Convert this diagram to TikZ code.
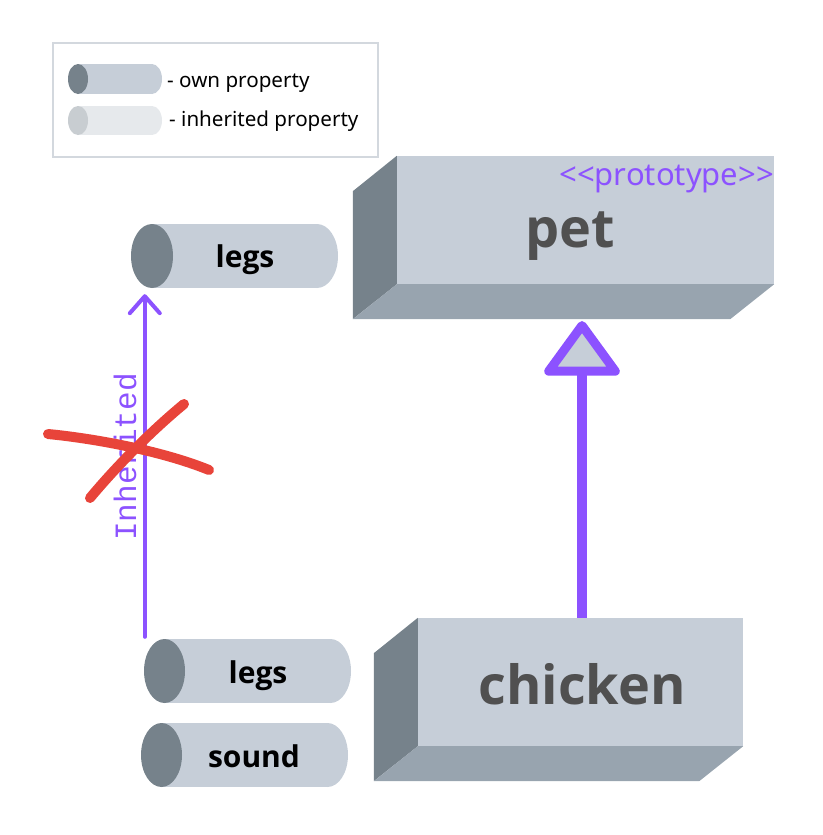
\documentclass[tikz,border=0pt]{standalone}
\usepackage{fontspec}
\setmainfont{Noto Sans}
\newfontfamily\boldsans{Open Sans}
\newfontfamily\inhmono{Liberation Mono}
\usetikzlibrary{arrows.meta,calc}
\definecolor{boxface}{HTML}{C6CED8}
\definecolor{boxside}{HTML}{76828B}
\definecolor{boxbottom}{HTML}{98A4AF}
\definecolor{inhbody}{HTML}{E6E9EC}
\definecolor{inhend}{HTML}{C8CDD1}
\definecolor{inhpurple}{HTML}{8C52FF}
\definecolor{crossred}{HTML}{E8443A}
\definecolor{textgray}{HTML}{505050}
\definecolor{legendframe}{HTML}{D3D8DE}
\newcommand\propcyl[8]{%
  \fill[#7] ({#4-#6},{(#3+#5)/2}) ellipse [x radius={#6*1pt}, y radius={(#5-#3)/2*1pt}];
  \fill[#7] ({#2+#6},#3) rectangle ({#4-#6},#5);
  \fill[#8] ({#2+#6},{(#3+#5)/2}) ellipse [x radius={#6*1pt}, y radius={(#5-#3)/2*1pt}];
  \node[inner sep=0pt, minimum width={(#4-#2)*1pt}, minimum height={(#5-#3)*1pt}] (#1) at ({(#2+#4)/2},{(#3+#5)/2}) {};
}
\newcommand\boxthreed[1]{%
  \fill[boxside] (#1.north west) -- (#1.south west) -- ++(-44,35) -- ++(0,-128) -- cycle;
  \fill[boxbottom] (#1.south west) -- (#1.south east) -- ++(-44,35) -- ($(#1.south west)+(-44,35)$) -- cycle;
}
\tikzset{
  frontface/.style={fill=boxface, inner sep=0pt, minimum height=128pt},
  boxtext/.style={font=\boldsans\fontsize{54}{54}\selectfont\bfseries, text=textgray, inner sep=0pt},
  proptext/.style={font=\boldsans\fontsize{30}{30}\selectfont\bfseries, text=black, inner sep=0pt},
  legendtext/.style={font=\fontsize{20.6}{20.6}\selectfont, text=black, inner sep=0pt},
  prototext/.style={font=\fontsize{31}{31}\selectfont, text=inhpurple, inner sep=0pt},
  inhlabel/.style={font=\inhmono\fontsize{31}{31}\selectfont, text=inhpurple, inner sep=0pt},
  inhline/.style={draw=inhpurple, line width=4pt, line cap=round,
    -{Straight Barb[length=17pt,width=30pt,round]}},
  protoarrow/.style={draw=inhpurple, line width=10pt,
    -{Triangle[length=58pt,width=82pt,fill=boxface,line width=9pt,round]}},
  crossline/.style={draw=crossred, line width=10pt, line cap=round},
}
\begin{document}
\begin{tikzpicture}[x=1pt,y=-1pt]
\useasboundingbox (0,0) rectangle (822,835);
% legend
\node[draw=legendframe, line width=2pt, inner sep=0pt, minimum width=325pt, minimum height=114pt] (legend) at (215.5,100) {};
\propcyl{ownkey}{68}{64}{162}{94}{10}{boxface}{boxside}
\propcyl{inhkey}{68}{106}{162}{135}{10}{inhbody}{inhend}
\node[legendtext, anchor=base west] (ownlbl) at (167,87) {- own property};
\node[legendtext, anchor=base west] (inhlbl) at (169,126) {- inherited property};
% pet
\node[frontface, minimum width=377pt] (pet) at (585.5,220) {};
\boxthreed{pet}
\node[boxtext, anchor=base] (pettext) at (570,247) {pet};
\node[prototext, anchor=base east] (proto) at (774,185) {{<}{<}prototype{>}{>}};
% chicken
\node[frontface, minimum width=325pt] (chicken) at (580.5,682) {};
\boxthreed{chicken}
\node[boxtext, anchor=base] (chickentext) at (582,704) {chicken};
% properties
\propcyl{legsA}{131}{224}{338}{288}{21}{boxface}{boxside}
\node[proptext, anchor=base] (legsAtext) at (245,267) {legs};
\propcyl{legsB}{144}{639}{351}{703}{20.5}{boxface}{boxside}
\node[proptext, anchor=base] (legsBtext) at (258,683) {legs};
\propcyl{sound}{141}{723}{348}{787}{20.5}{boxface}{boxside}
\node[proptext, anchor=base] (soundtext) at (254,767) {sound};
% prototype arrow
\coordinate (petbase) at (582,321);
\draw[protoarrow] (chicken.north -| petbase) -- (petbase);
% inherited arrow
\draw[inhline] ([xshift=1pt,yshift=2pt]legsB.north west) -- ([xshift=14pt,yshift=-6pt]legsA.south west);
\node[inhlabel, rotate=90, anchor=base] (inhtxt) at (136,457) {Inherited};
% cross
\draw[crossline] (48,434) .. controls (90,438) and (160,450) .. (209,470);
\draw[crossline] (90,498) .. controls (115,468) and (150,432) .. (184,404);
\end{tikzpicture}
\end{document}
